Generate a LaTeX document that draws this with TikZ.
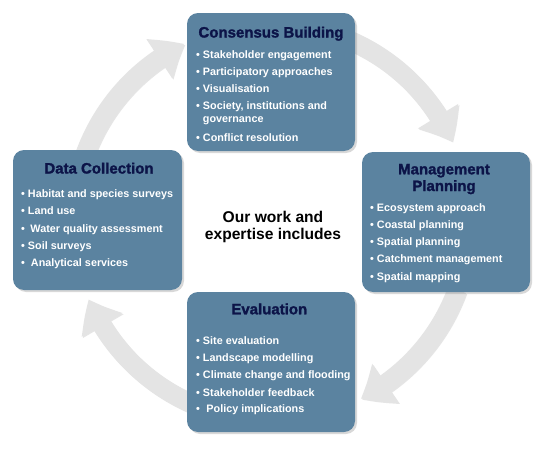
\documentclass[tikz,border=0pt]{standalone}
\usepackage{fontspec}
\setmainfont{Liberation Sans}
\newfontfamily\titlefont[BoldFeatures={FakeBold=1.6}]{Liberation Sans}
\usetikzlibrary{shadows,arrows.meta,bending}
\definecolor{boxfill}{RGB}{91,131,160}
\definecolor{titlec}{RGB}{12,20,72}
\definecolor{arrowc}{RGB}{228,228,228}
\begin{document}
\begin{tikzpicture}[x=1pt,y=-1pt,
  panel/.style={draw=none, fill=boxfill, rounded corners=11pt, inner sep=0pt,
    drop shadow={shadow xshift=2pt,shadow yshift=-2pt,opacity=0.3}},
  cyc/.style={line width=19pt, draw=arrowc, -{Triangle[width=45pt,length=29pt,bend]},
    preaction={draw=black!10, line width=19pt, -{Triangle[width=45pt,length=29pt,bend]}, transform canvas={shift={(1.2pt,-1.2pt)}}}},
  title/.style={font=\titlefont\fontsize{15}{18}\selectfont\bfseries, text=titlec, inner sep=0pt, anchor=base},
  item/.style={font=\fontsize{10.8}{13}\selectfont\bfseries, text=white, inner sep=0pt, anchor=base west},
  centretxt/.style={font=\fontsize{15.6}{18}\selectfont\bfseries, text=black, inner sep=0pt, anchor=base}]
\fill[white] (0,0) rectangle (550,450);
\useasboundingbox (0,0) rectangle (550,450);
\coordinate (c) at (271,222);
% cycle arrows
\draw[cyc] ([shift={(-160:198)}]c) arc[start angle=-160, end angle=-116, radius=198];
\draw[cyc] ([shift={(-70:198)}]c) arc[start angle=-70, end angle=-24, radius=198];
\draw[cyc] ([shift={(20:198)}]c) arc[start angle=20, end angle=63, radius=198];
\draw[cyc] ([shift={(110:198)}]c) arc[start angle=110, end angle=157, radius=198];
% panels
\node[panel, minimum width=168pt, minimum height=138pt] (cb) at (271,82) {};
\node[panel, minimum width=169pt, minimum height=140pt] (dc) at (97.5,220) {};
\node[panel, minimum width=168pt, minimum height=140pt] (mp) at (446,222) {};
\node[panel, minimum width=168pt, minimum height=140pt] (ev) at (271,362) {};
% Consensus Building
\node[title] (cbt) at (271,37.5) {Consensus Building};
\node[item] (cb1) at (196,58) {• Stakeholder engagement};
\node[item] (cb2) at (196,75.5) {• Participatory approaches};
\node[item] (cb3) at (196,92) {• Visualisation};
\node[item] (cb4) at (196,109) {• Society, institutions and};
\node[item] (cb5) at (202.7,122.5) {governance};
\node[item] (cb6) at (196,141.5) {• Conflict resolution};
% Data Collection
\node[title] (dct) at (99,173.5) {Data Collection};
\node[item] (dc1) at (21,197.3) {• Habitat and species surveys};
\node[item] (dc2) at (21,214.5) {• Land use};
\node[item] (dc3) at (21,232) {• \hspace{2.5pt}Water quality assessment};
\node[item] (dc4) at (21,249) {• Soil surveys};
\node[item] (dc5) at (21,266) {• \hspace{3pt}Analytical services};
% Management Planning
\node[title] (mpt1) at (444,174.3) {Management};
\node[title] (mpt2) at (444,191) {Planning};
\node[item] (mp1) at (370,211.7) {• Ecosystem approach};
\node[item] (mp2) at (370,228.7) {• Coastal planning};
\node[item] (mp3) at (370,245.7) {• Spatial planning};
\node[item] (mp4) at (370,262.7) {• Catchment management};
\node[item] (mp5) at (370,280) {• Spatial mapping};
% Evaluation
\node[title] (evt) at (269.3,314.3) {Evaluation};
\node[item] (ev1) at (196,344) {• Site evaluation};
\node[item] (ev2) at (196,361) {• Landscape modelling};
\node[item] (ev3) at (196,378.3) {• Climate change and flooding};
\node[item] (ev4) at (196,396) {• Stakeholder feedback};
\node[item] (ev5) at (196,412.7) {• \hspace{3.5pt}Policy implications};
% centre text
\node[centretxt] (mid1) at (273,222.7) {Our work and};
\node[centretxt] (mid2) at (273,239.3) {expertise includes};
\end{tikzpicture}
\end{document}
